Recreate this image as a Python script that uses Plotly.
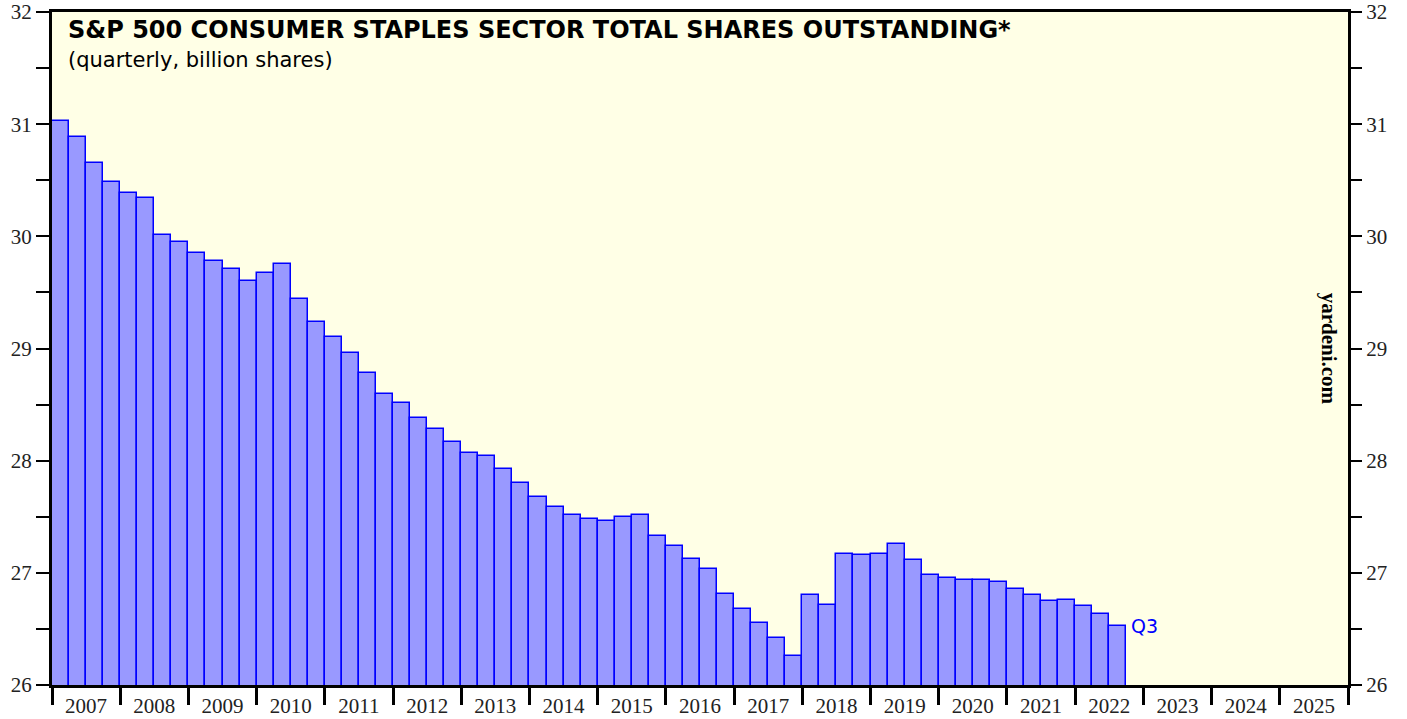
import plotly.graph_objects as go

years = list(range(2007, 2023))
quarters = [1, 2, 3, 4]
shares = [
    31.03, 30.89, 30.65, 30.48,   # 2007
    30.39, 30.34, 30.01, 29.95,   # 2008
    29.85, 29.78, 29.71, 29.60,   # 2009
    29.67, 29.75, 29.44, 29.24,   # 2010
    29.10, 28.96, 28.78, 28.59,   # 2011
    28.51, 28.38, 28.28, 28.17,   # 2012
    28.07, 28.04, 27.93, 27.80,   # 2013
    27.68, 27.59, 27.52, 27.48,   # 2014
    27.46, 27.50, 27.52, 27.33,   # 2015
    27.24, 27.12, 27.03, 26.81,   # 2016
    26.68, 26.55, 26.42, 26.26,   # 2017
    26.80, 26.71, 27.17, 27.16,   # 2018
    27.17, 27.26, 27.11, 26.98,   # 2019
    26.95, 26.94, 26.94, 26.92,   # 2020
    26.86, 26.80, 26.75, 26.76,   # 2021
    26.70, 26.63, 26.53,          # 2022 (Q1-Q3)
]
year_labels = [str(y) for y in range(2007, 2026)]
last_label = "Q3"

x_pos = []
for i in range(len(shares)):
    yr = 2007 + i // 4
    q = i % 4
    x_pos.append(yr + q * 0.25 + 0.125)

fig = go.Figure()
fig.add_trace(go.Bar(
    x=x_pos, y=shares, width=0.25,
    marker=dict(color="#9999FF", line=dict(color="#0000FF", width=1.5)),
    hoverinfo="x+y", showlegend=False,
))
# invisible trace to activate right axis
fig.add_trace(go.Scatter(x=[2007], y=[26], yaxis="y2", mode="markers",
                         marker=dict(opacity=0), showlegend=False, hoverinfo="skip"))

serif = "Liberation Serif, Times New Roman, serif"
sans = "DejaVu Sans, Arial, sans-serif"

yticks = [26, 27, 28, 29, 30, 31, 32]
ycommon = dict(
    range=[26, 32], tickvals=yticks, ticks="outside", ticklen=13, tickwidth=1.5,
    tickcolor="black", tickfont=dict(family=serif, size=21, color="#222"),
    showgrid=False, zeroline=False, automargin=False,
    minor=dict(tickvals=[26.5, 27.5, 28.5, 29.5, 30.5, 31.5], ticks="outside",
               ticklen=13, tickwidth=1.5, tickcolor="black", showgrid=False),
)

fig.update_layout(
    width=1407, height=719,
    margin=dict(l=52, r=59, t=12, b=34),
    paper_bgcolor="white",
    plot_bgcolor="#FFFFE6",
    bargap=0,
    xaxis=dict(
        range=[2007, 2026],
        tickvals=[y + 0.5 for y in range(2007, 2026)],
        ticktext=year_labels, automargin=False,
        ticks="", tickfont=dict(family=serif, size=21, color="#222"),
        showgrid=False, zeroline=False,
        showline=True, linecolor="black", linewidth=3, mirror=True,
        minor=dict(tickvals=list(range(2007, 2027)), ticks="outside",
                   ticklen=17, tickwidth=2.5, tickcolor="black", showgrid=False),
    ),
    yaxis=dict(side="left", showline=True, linecolor="black", linewidth=3,
               mirror=True, **ycommon),
    yaxis2=dict(side="right", overlaying="y", showline=False, **ycommon),
)

fig.add_annotation(
    xref="paper", yref="paper", x=0.011, y=0.997, xanchor="left", yanchor="top",
    text="<b>S&P 500 CONSUMER STAPLES SECTOR TOTAL SHARES OUTSTANDING*</b>",
    showarrow=False, font=dict(family=sans, size=24, color="black"),
)
fig.add_annotation(
    xref="paper", yref="paper", x=0.011, y=0.950, xanchor="left", yanchor="top",
    text="(quarterly, billion shares)",
    showarrow=False, font=dict(family=sans, size=21, color="black"),
)
fig.add_annotation(
    xref="paper", yref="paper", x=0.986, y=0.5, xanchor="center", yanchor="middle",
    text="<b>yardeni.com</b>", textangle=90,
    showarrow=False, font=dict(family=serif, size=21, color="black"),
)
fig.add_annotation(
    x=x_pos[-1] + 0.17, y=shares[-1], xanchor="left", yanchor="middle",
    text=last_label, showarrow=False,
    font=dict(family=sans, size=19, color="#0000FF"),
)

fig.write_html("out.html", config={"displayModeBar": False},
               post_script="document.body.style.margin='0';")
